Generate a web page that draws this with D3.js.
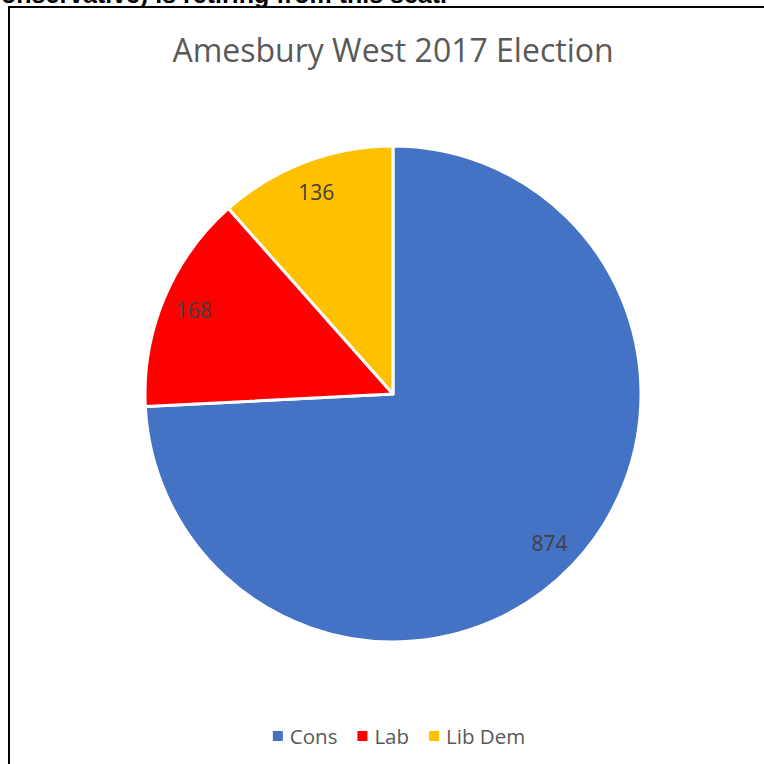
<!DOCTYPE html>
<html>
<head>
<meta charset="utf-8">
<script src="https://cdn.jsdelivr.net/npm/d3@7"></script>
<style>
  html, body { margin: 0; padding: 0; background: #fff; overflow: hidden; }
  svg { display: block; }
</style>
</head>
<body>
<svg id="chart" width="764" height="764"></svg>
<script>
const categories = ["Cons", "Lab", "Lib Dem"];
const votes = [874, 168, 136];
const colors = ["#4472C4", "#FF0000", "#FFC000"];
const chartTitle = "Amesbury West 2017 Election";
const headerText = "Conservative) is retiring from this seat.";

const svg = d3.select("#chart");

// Header text above the chart frame (cropped at the top, as in the source)
svg.append("text")
  .attr("x", -17).attr("y", 3)
  .attr("font-family", "Liberation Sans, Arial, sans-serif")
  .attr("font-weight", "bold")
  .attr("font-size", 25)
  .attr("fill", "#000")
  .text(headerText);

// Chart frame
svg.append("rect")
  .attr("x", 9).attr("y", 7)
  .attr("width", 770).attr("height", 770)
  .attr("fill", "#fff")
  .attr("stroke", "#000")
  .attr("stroke-width", 2);

// Title
svg.append("text")
  .attr("x", 393).attr("y", 62)
  .attr("text-anchor", "middle")
  .attr("font-family", "Open Sans, Noto Sans, sans-serif")
  .attr("font-size", 32)
  .attr("fill", "#595959")
  .text(chartTitle);

const cx = 393, cy = 394, R = 248;
const data = categories.map((c, i) => ({ cat: c, value: votes[i], color: colors[i] }));
const pie = d3.pie().sort(null).value(d => d.value);
const arc = d3.arc().innerRadius(0).outerRadius(R);
const labelArc = d3.arc().innerRadius(216).outerRadius(216);

const g = svg.append("g").attr("transform", `translate(${cx},${cy})`);
const arcs = pie(data);

g.selectAll("path.slice")
  .data(arcs)
  .enter().append("path")
  .attr("class", "slice")
  .attr("d", arc)
  .attr("fill", d => d.data.color)
  .attr("stroke", "#fff")
  .attr("stroke-width", 3)
  .attr("stroke-linejoin", "round");

g.selectAll("text.lbl")
  .data(arcs)
  .enter().append("text")
  .attr("class", "lbl")
  .attr("transform", d => `translate(${labelArc.centroid(d)})`)
  .attr("text-anchor", "middle")
  .attr("dominant-baseline", "central")
  .attr("font-family", "Open Sans, Noto Sans, sans-serif")
  .attr("font-size", 21)
  .attr("fill", "#404040")
  .text(d => d.data.value);

// Legend
const legendY = 736;
const legend = svg.append("g");
const legendFont = 20.5;
const items = [];
let totalW = 0;
const gap = 20, marker = 10, mGap = 7;
categories.forEach((c, i) => {
  const t = legend.append("text")
    .attr("font-family", "Open Sans, Noto Sans, sans-serif")
    .attr("font-size", legendFont)
    .attr("fill", "#595959")
    .attr("dominant-baseline", "central")
    .attr("y", legendY)
    .text(c);
  const w = t.node().getComputedTextLength();
  items.push({ t, w, color: colors[i] });
  totalW += marker + mGap + w + (i < categories.length - 1 ? gap : 0);
});
let x = 399 - totalW / 2;
items.forEach(it => {
  legend.append("rect")
    .attr("x", x).attr("y", legendY - marker / 2)
    .attr("width", marker).attr("height", marker)
    .attr("fill", it.color);
  it.t.attr("x", x + marker + mGap);
  x += marker + mGap + it.w + gap;
});
</script>
</body>
</html>
